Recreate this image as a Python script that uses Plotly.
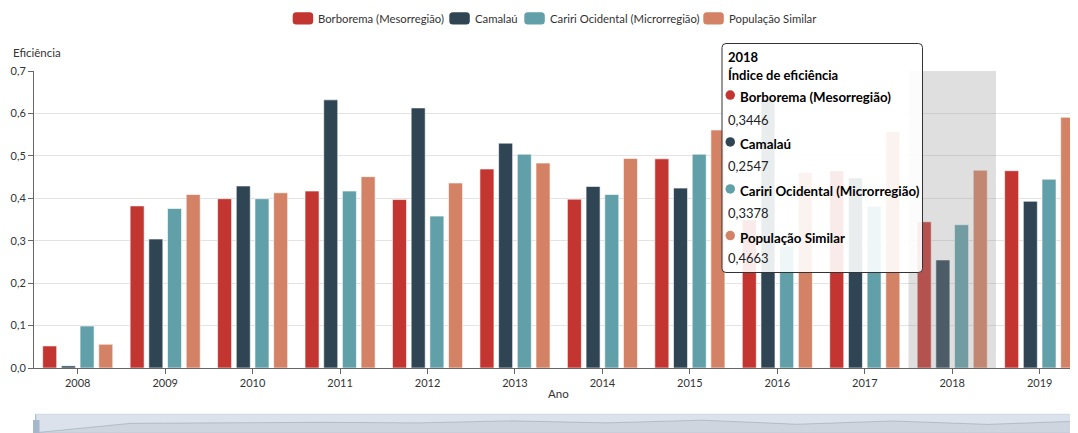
import plotly.graph_objects as go

# ---------------- data ----------------
anos = ["2008", "2009", "2010", "2011", "2012", "2013", "2014", "2015", "2016", "2017", "2018", "2019"]
borborema = [0.052, 0.382, 0.399, 0.417, 0.397, 0.469, 0.398, 0.493, 0.349, 0.465, 0.3446, 0.465]
camalau = [0.005, 0.304, 0.429, 0.632, 0.613, 0.530, 0.428, 0.424, 0.635, 0.448, 0.2547, 0.393]
cariri = [0.099, 0.376, 0.399, 0.417, 0.358, 0.504, 0.409, 0.504, 0.287, 0.381, 0.3378, 0.445]
pop_similar = [0.056, 0.409, 0.413, 0.451, 0.436, 0.483, 0.494, 0.561, 0.461, 0.557, 0.4663, 0.591]

series_names = ["Borborema (Mesorregião)", "Camalaú", "Cariri Ocidental (Microrregião)", "População Similar"]
series_values = [borborema, camalau, cariri, pop_similar]
colors = ["#c23531", "#2f4554", "#61a0a8", "#d48265"]

tooltip_year = "2018"
tooltip_title = "Índice de eficiência"
tooltip_values = ["0,3446", "0,2547", "0,3378", "0,4663"]

# page body has an 8px default margin; the figure is placed so that it fills the window
OFF = 8
W, H = 1078 - OFF, 433 - OFF
FONT = "Lato"


def fx(p):
    return (p - OFF) / W


def fy(p):
    return (H - (p - OFF)) / H


def rounded_rect(L, T, R, B, r):
    return (f"M {fx(L + r)},{fy(T)} L {fx(R - r)},{fy(T)} Q {fx(R)},{fy(T)} {fx(R)},{fy(T + r)} "
            f"L {fx(R)},{fy(B - r)} Q {fx(R)},{fy(B)} {fx(R - r)},{fy(B)} "
            f"L {fx(L + r)},{fy(B)} Q {fx(L)},{fy(B)} {fx(L)},{fy(B - r)} "
            f"L {fx(L)},{fy(T + r)} Q {fx(L)},{fy(T)} {fx(L + r)},{fy(T)} Z")


fig = go.Figure()

for name, vals, col in zip(series_names, series_values, colors):
    fig.add_trace(go.Bar(
        x=anos, y=vals, name=name,
        marker=dict(color=col, line=dict(color="rgba(255,255,255,0.6)", width=1)),
        hoverinfo="skip", showlegend=False,
    ))

# dataZoom-like shadow (first series)
fig.add_trace(go.Scatter(
    x=list(range(len(anos))), y=borborema, xaxis="x2", yaxis="y2",
    mode="lines", fill="tozeroy",
    line=dict(color="rgba(47,69,84,0.25)", width=0.8),
    fillcolor="rgba(47,69,84,0.08)", showlegend=False, hoverinfo="skip",
))

band = 87.45
x_left = 34

shapes = []
annotations = []

# slider background
shapes.append(dict(type="rect", xref="paper", yref="paper", x0=fx(35.7), x1=1.0, y0=0, y1=fy(414.3),
                   fillcolor="#dce2eb", line=dict(color="#cfd6e0", width=1), layer="below"))
# highlight band for 2018
shapes.append(dict(type="rect", xref="x", yref="paper", x0=9.5, x1=10.5, y0=fy(368), y1=fy(71),
                   fillcolor="rgba(150,150,150,0.3)", line=dict(width=0), layer="above"))
# slider handle
shapes.append(dict(type="rect", xref="paper", yref="paper", x0=fx(33), x1=fx(39.5), y0=fy(433), y1=fy(420),
                   fillcolor="#a7b7cc", line=dict(color="#a7b7cc", width=0), layer="above"))
shapes.append(dict(type="line", xref="paper", yref="paper", x0=fx(35.7), x1=fx(35.7), y0=fy(433), y1=fy(414.3),
                   line=dict(color="#a7b7cc", width=1), layer="above"))

# legend (icons + labels)
legend_icon_x = [292.7, 449.3, 524.3, 703.3]
for name, col, ix in zip(series_names, colors, legend_icon_x):
    shapes.append(dict(type="path", xref="paper", yref="paper",
                       path=rounded_rect(ix, 12.3, ix + 20.5, 24.5, 3.5),
                       fillcolor=col, line=dict(width=0), layer="above"))
    annotations.append(dict(text=name, x=fx(ix + 24.6), y=fy(18.6), xref="paper", yref="paper",
                            xanchor="left", yanchor="middle", showarrow=False, borderpad=0,
                            font=dict(family=FONT, size=11.3, color="#333")))

# tooltip box
shapes.append(dict(type="path", xref="paper", yref="paper", path=rounded_rect(722, 43.5, 922.5, 272.5, 4),
                   fillcolor="rgba(255,255,255,0.9)", line=dict(color="#333333", width=1), layer="above"))

annotations.append(dict(text=f"<b>{tooltip_year}</b>", x=fx(727), y=fy(56.7), xref="paper", yref="paper",
                        xanchor="left", yanchor="middle", showarrow=False,
                        font=dict(family=FONT, size=13, color="#000"), borderpad=0))
annotations.append(dict(text=f"<b>{tooltip_title}</b>", x=fx(727), y=fy(74.5), xref="paper", yref="paper",
                        xanchor="left", yanchor="middle", showarrow=False,
                        font=dict(family=FONT, size=13, color="#000"), borderpad=0))

name_y = [97.3, 144.2, 191.2, 237.8]
val_y = [120, 166, 212.7, 258.3]
for name, col, ny, vy, vtxt in zip(series_names, colors, name_y, val_y, tooltip_values):
    shapes.append(dict(type="circle", xref="paper", yref="paper",
                       x0=fx(725.5), x1=fx(735), y0=fy(ny + 2.5), y1=fy(ny - 7),
                       fillcolor=col, line=dict(width=0), layer="above"))
    annotations.append(dict(text=f"<b>{name}</b>", x=fx(739), y=fy(ny), xref="paper", yref="paper",
                            xanchor="left", yanchor="middle", showarrow=False,
                            font=dict(family=FONT, size=13.3, color="#000"), borderpad=0))
    annotations.append(dict(text=vtxt, x=fx(727), y=fy(vy), xref="paper", yref="paper",
                            xanchor="left", yanchor="middle", showarrow=False,
                            font=dict(family=FONT, size=13, color="#222"), borderpad=0))

# axis titles
annotations.append(dict(text="Eficiência", x=fx(12), y=fy(52.5), xref="paper", yref="paper",
                        xanchor="left", yanchor="middle", showarrow=False, borderpad=0,
                        font=dict(family=FONT, size=11.5, color="#333")))
annotations.append(dict(text="Ano", x=fx(558.5), y=fy(393), xref="paper", yref="paper",
                        xanchor="center", yanchor="middle", showarrow=False, borderpad=0,
                        font=dict(family=FONT, size=11.5, color="#333")))

fig.update_layout(
    width=W, height=H,
    margin=dict(l=0, r=0, t=0, b=0, pad=0, autoexpand=False),
    paper_bgcolor="white", plot_bgcolor="white",
    separators=",.",
    barmode="group", bargap=0.145, bargroupgap=0.25,
    font=dict(family=FONT, size=12, color="#333"),
    showlegend=False,
    xaxis=dict(domain=[fx(x_left), 1.0], type="category", categoryorder="array", categoryarray=anos,
               range=[-0.5, -0.5 + (1078 - x_left) / band], automargin=False,
               showline=True, linecolor="#666", linewidth=1,
               ticks="outside", ticklen=5, tickcolor="#666", showgrid=False,
               tickfont=dict(family=FONT, size=11, color="#333"), fixedrange=True),
    yaxis=dict(domain=[fy(368), fy(71)], range=[0, 0.7], dtick=0.1, tickformat=".1f", automargin=False,
               showline=True, linecolor="#666", linewidth=1,
               ticks="outside", ticklen=5, tickcolor="#666",
               showgrid=True, gridcolor="#e3e3e3", zeroline=False,
               tickfont=dict(family=FONT, size=11, color="#333"), fixedrange=True),
    xaxis2=dict(domain=[fx(35.7), 1.0], range=[0, (1078 - 35.7) / 95.2], anchor="y2",
                visible=False, fixedrange=True, automargin=False),
    yaxis2=dict(domain=[0, fy(414.3)], range=[0.04, 0.70], anchor="x2",
                visible=False, fixedrange=True, automargin=False),
    shapes=shapes,
    annotations=annotations,
)

fig.write_html("out.html")
